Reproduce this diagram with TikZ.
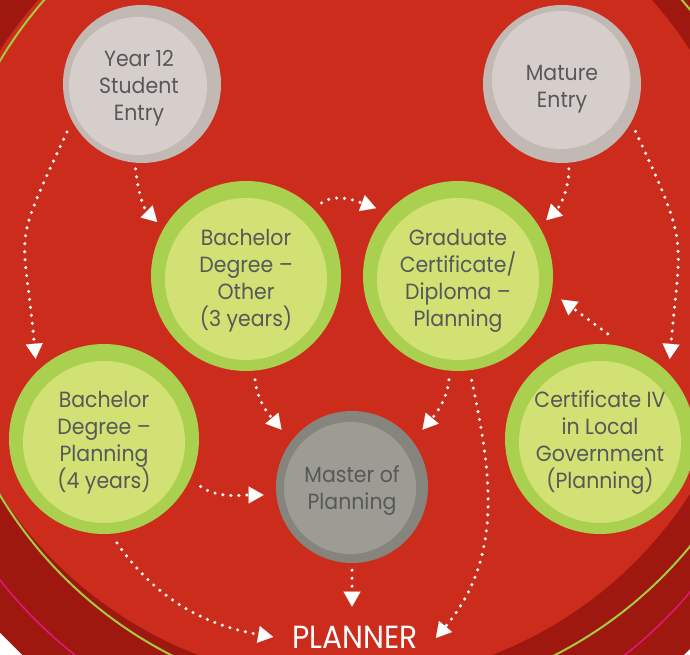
\documentclass[tikz,border=0pt]{standalone}
\usepackage{fontspec}
\setmainfont{Poppins}[FakeStretch=0.93]
\usetikzlibrary{arrows.meta}
\definecolor{redbright}{HTML}{CB2C1C}
\definecolor{reddark}{HTML}{9E1810}
\definecolor{limeline}{HTML}{A6CC3E}
\definecolor{pinkline}{HTML}{E3177D}
\definecolor{greenring}{HTML}{A9D04F}
\definecolor{greenin}{HTML}{D1E173}
\definecolor{grayring}{HTML}{C3B9B4}
\definecolor{grayin}{HTML}{D6CECB}
\definecolor{darkring}{HTML}{85857D}
\definecolor{darkin}{HTML}{9D9C94}
\definecolor{txt}{HTML}{58585A}
\begin{document}
\begin{tikzpicture}[x=1pt,y=1pt,
  bubbletext/.style={inner sep=0pt, align=center, text=txt, font=\fontsize{22}{27}\selectfont},
  entry/.style 2 args={circle, inner sep=0pt, minimum size=158pt, fill=grayring,
     path picture={\fill[grayin] ([xshift=#1,yshift=#2]path picture bounding box.center) circle[radius=69pt];}},
  study/.style={circle, inner sep=0pt, minimum size=190pt, fill=greenring,
     path picture={\fill[greenin] ([yshift=-3pt]path picture bounding box.center) circle[radius=81pt];}},
  master/.style={circle, inner sep=0pt, minimum size=152pt, fill=darkring,
     path picture={\fill[darkin] ([xshift=-2pt,yshift=-1pt]path picture bounding box.center) circle[radius=66pt];}},
  conn/.style={draw=white, line width=3.4pt, line cap=round, dash pattern=on 0pt off 8pt,
     -{Triangle[width=17pt,length=15pt,line width=0.1pt]}}
]
\useasboundingbox (0,0) rectangle (690,655);
\fill[reddark] (0,0) rectangle (690,655);
\begin{scope}
  \clip (0,0) rectangle (690,655);
  \fill[redbright] (345,383) circle[radius=410];
  \draw[limeline, line width=2pt] (363,377) circle[radius=423];
  \draw[pinkline, line width=1.5pt] (350,350) ++(210:445) arc[start angle=210, end angle=330, radius=445];
\end{scope}
\fill[white] (0,22) -- (0,0) -- (22,0) -- cycle;
\fill[white] (684,0) -- (690,0) -- (690,6) -- cycle;

\node[entry={-4pt}{-2pt}] (y12) at (142,571) {};
\node[entry={-1pt}{4pt}] (me) at (562,571) {};
\node[study] (bo) at (246,379) {};
\node[study] (gc) at (458,379) {};
\node[study] (bp) at (104,216) {};
\node[study] (c4) at (600,216) {};
\node[master] (ma) at (352,168) {};

\node[bubbletext] (y12t) at ([xshift=-3pt,yshift=-4pt]y12.center) {Year 12\\Student\\Entry};
\node[bubbletext] (met) at ([yshift=-5pt]me.center) {Mature\\Entry};
\node[bubbletext] (bot) at ([yshift=-5pt]bo.center) {Bachelor\\Degree –\\Other\\(3 years)};
\node[bubbletext] (gct) at ([yshift=-5pt]gc.center) {Graduate\\Certificate/\\Diploma –\\Planning};
\node[bubbletext] (bpt) at ([yshift=-4pt]bp.center) {Bachelor\\Degree –\\Planning\\(4 years)};
\node[bubbletext] (c4t) at ([yshift=-4pt]c4.center) {Certificate IV\\in Local\\Government\\(Planning)};
\node[bubbletext] (mat) at ([yshift=-4pt]ma.center) {Master of\\Planning};
\node[inner sep=0pt, text=white, font=\fontsize{32}{36}\selectfont] (planner) at (355,18) {PLANNER};

\draw[conn, shorten <=6pt, shorten >=9pt] (y12.265) to[out=-85,in=135] (bo.150);
\draw[conn, shorten <=12pt, shorten >=13pt] (y12.208) to[out=245,in=95,looseness=1.5] (bp.135);
\draw[conn, shorten <=10pt, shorten >=12pt] (bo.45) to[out=35,in=160] (gc.138);
\draw[conn, shorten <=6pt, shorten >=9.5pt] (me.275) to[out=-90,in=45] (gc.31);
\draw[conn, shorten <=10pt, shorten >=14pt] (me.331) to[out=-65,in=85,looseness=1.4] (c4.44);
\draw[conn, shorten <=23pt, shorten >=12pt] (c4.74) -- (gc.-10);
\draw[conn, shorten <=9pt, shorten >=15pt] (bo.-85) to[out=-85,in=130] (ma.143);
\draw[conn, shorten <=9pt, shorten >=15pt] (gc.-95) to[out=-95,in=50] (ma.37);
\draw[conn, shorten <=12.6pt, shorten >=12.6pt] (bp.-25) to[out=-35,in=180] (ma.186);
\draw[conn, shorten <=7pt, shorten >=19pt] (ma.south) -- (ma.south |- planner.north);
\draw[conn, shorten <=11pt] (bp.-86) to[out=-55,in=170] ([xshift=-19pt]planner.west);
\draw[conn, shorten <=10pt] (gc.-83) to[out=-78,in=50] ([xshift=18pt,yshift=-1pt]planner.east);
\end{tikzpicture}
\end{document}
